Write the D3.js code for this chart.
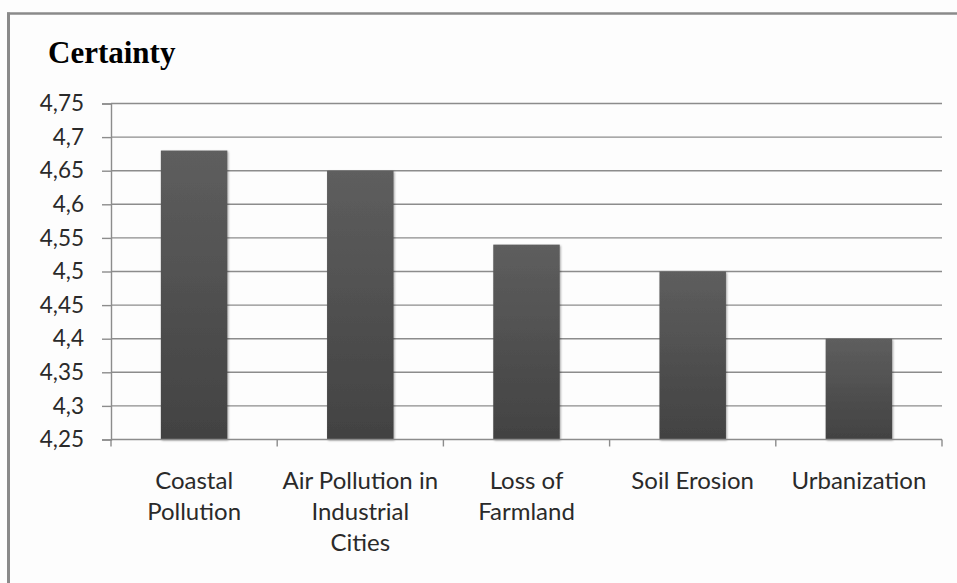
<!DOCTYPE html>
<html>
<head>
<meta charset="utf-8">
<script src="https://cdn.jsdelivr.net/npm/d3@7"></script>
<style>
  html, body { margin: 0; padding: 0; background: #fdfdfd; }
  svg { display: block; }
</style>
</head>
<body>
<script>
// Certainty score per environmental issue
const categories = ["Coastal\nPollution", "Air Pollution in\nIndustrial\nCities", "Loss of\nFarmland", "Soil Erosion", "Urbanization"];
const values = [4.68, 4.65, 4.54, 4.50, 4.40];
const yTicks = [4.25, 4.3, 4.35, 4.4, 4.45, 4.5, 4.55, 4.6, 4.65, 4.7, 4.75];
const yTickLabels = ["4,25", "4,3", "4,35", "4,4", "4,45", "4,5", "4,55", "4,6", "4,65", "4,7", "4,75"];
const title = "Certainty";

const W = 957, H = 583;
const plot = { left: 111, right: 942, top: 103.5, bottom: 439.5 };
const textFont = "Lato, 'Open Sans', sans-serif";

const svg = d3.select("body").append("svg").attr("width", W).attr("height", H);

const defs = svg.append("defs");
const grad = defs.append("linearGradient").attr("id", "barFill")
  .attr("x1", 0).attr("y1", 0).attr("x2", 0).attr("y2", 1);
grad.append("stop").attr("offset", "0%").attr("stop-color", "#5e5e5e");
grad.append("stop").attr("offset", "100%").attr("stop-color", "#424242");
const shadow = defs.append("filter").attr("id", "barShadow")
  .attr("x", "-10%").attr("y", "-10%").attr("width", "120%").attr("height", "120%");
shadow.append("feGaussianBlur").attr("in", "SourceAlpha").attr("stdDeviation", 1.2).attr("result", "b");
shadow.append("feOffset").attr("in", "b").attr("dx", 0.5).attr("dy", 0.5).attr("result", "o");
shadow.append("feComponentTransfer").attr("in", "o").attr("result", "s")
  .append("feFuncA").attr("type", "linear").attr("slope", 0.35);
const m = shadow.append("feMerge");
m.append("feMergeNode").attr("in", "s");
m.append("feMergeNode").attr("in", "SourceGraphic");

// Outer chart frame (only top and left edges fall inside the view)
svg.append("line").attr("x1", 7).attr("x2", W + 5).attr("y1", 13.5).attr("y2", 13.5)
  .attr("stroke", "#8a8a8a").attr("stroke-width", 2.5);
svg.append("line").attr("x1", 8.5).attr("x2", 8.5).attr("y1", 12.5).attr("y2", H + 5)
  .attr("stroke", "#8a8a8a").attr("stroke-width", 3);

const x = d3.scaleBand().domain(categories).range([plot.left, plot.right])
  .paddingInner(0.6).paddingOuter(0.3);
const y = d3.scaleLinear().domain([4.25, 4.75]).range([plot.bottom, plot.top]);

// Horizontal gridlines
svg.append("g").selectAll("line").data(yTicks.slice(1)).join("line")
  .attr("x1", plot.left).attr("x2", plot.right)
  .attr("y1", d => y(d)).attr("y2", d => y(d))
  .attr("stroke", "#8c8c8c").attr("stroke-width", 1.4);

// Bars
svg.append("g").selectAll("rect").data(values).join("rect")
  .attr("x", (d, i) => x(categories[i]))
  .attr("width", x.bandwidth())
  .attr("y", d => y(d))
  .attr("height", d => y(4.25) - y(d))
  .attr("fill", "url(#barFill)")
  .attr("filter", "url(#barShadow)");

// Y axis
const yAxis = d3.axisLeft(y).tickValues(yTicks)
  .tickFormat((d, i) => yTickLabels[i]).tickSize(9).tickPadding(18);
const gy = svg.append("g").attr("transform", `translate(${plot.left},0)`).call(yAxis);
gy.select(".domain").attr("stroke", "#8c8c8c").attr("stroke-width", 1.4);
gy.selectAll(".tick line").attr("stroke", "#8c8c8c").attr("stroke-width", 1.4);
gy.selectAll(".tick text").attr("fill", "#2a2a2a")
  .style("font-family", textFont).style("font-size", "22.5px");

// X axis baseline and category boundary ticks
const boundaries = d3.range(categories.length + 1).map(i => plot.left + i * x.step());
svg.append("line").attr("x1", plot.left).attr("x2", plot.right)
  .attr("y1", plot.bottom).attr("y2", plot.bottom)
  .attr("stroke", "#8c8c8c").attr("stroke-width", 1.4);
svg.append("g").selectAll("line").data(boundaries).join("line")
  .attr("x1", d => d).attr("x2", d => d)
  .attr("y1", plot.bottom).attr("y2", plot.bottom + 7)
  .attr("stroke", "#8c8c8c").attr("stroke-width", 1.4);

// Category labels
const lab = svg.append("g").selectAll("text").data(categories).join("text")
  .attr("x", d => x(d) + x.bandwidth() / 2)
  .attr("y", 489)
  .attr("text-anchor", "middle")
  .attr("fill", "#2a2a2a")
  .style("font-family", textFont).style("font-size", "24px");
lab.each(function(d) {
  const t = d3.select(this);
  d.split("\n").forEach((line, i) => {
    t.append("tspan").attr("x", x(d) + x.bandwidth() / 2)
      .attr("dy", i === 0 ? 0 : 31).text(line);
  });
});

// Title
svg.append("text").attr("x", 48).attr("y", 63)
  .attr("fill", "#000")
  .style("font-family", "'Liberation Serif', 'Times New Roman', serif")
  .style("font-weight", "bold").style("font-size", "31px")
  .text(title);
</script>
</body>
</html>
